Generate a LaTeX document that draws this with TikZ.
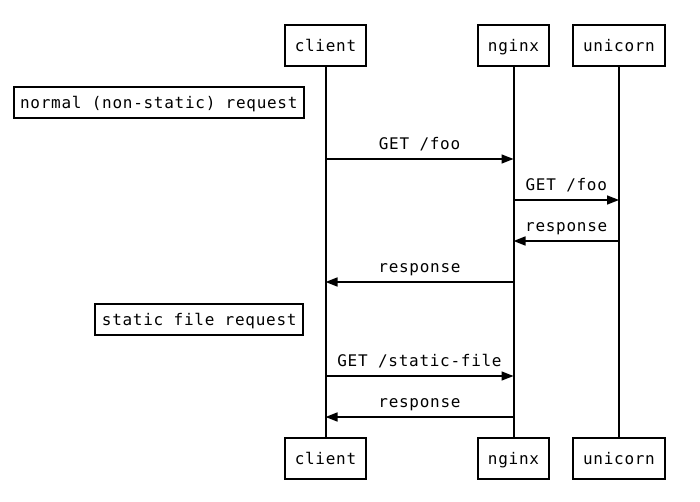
\documentclass[tikz,border=0pt]{standalone}
\usepackage{fontspec}
\newfontfamily\diagmono[LetterSpace=4.5]{DejaVu Sans Mono}
\usetikzlibrary{arrows.meta}
\begin{document}
\begin{tikzpicture}[x=1pt,y=-1pt,
  txt/.style={font=\diagmono\fontsize{16}{18}\selectfont,text height=12.5pt,text depth=0pt},
  actor/.style={txt,draw,line width=2pt,minimum height=41pt,inner xsep=10pt},
  notebox/.style={txt,draw,line width=2pt,minimum height=31pt,inner xsep=6.5pt},
  life/.style={line width=2pt},
  msg/.style={line width=1.6pt,-{Triangle[length=12pt,width=9pt]}},
  lbl/.style={txt,above=5pt,midway}]
\useasboundingbox (0,0) rectangle (700,502);
\node[actor] (ct) at (325.5,45.5) {client};
\node[actor] (nt) at (513.5,45.5) {nginx};
\node[actor] (ut) at (619,45.5) {unicorn};
\node[actor] (cb) at (325.5,458.5) {client};
\node[actor] (nb) at (513.5,458.5) {nginx};
\node[actor] (ub) at (619,458.5) {unicorn};
\draw[life] (ct.south) -- (cb.north);
\draw[life] (nt.south) -- (nb.north);
\draw[life] (ut.south) -- (ub.north);
\node[notebox,anchor=east] (n1) at (305,102.5) {normal (non-static) request};
\node[notebox,anchor=east] (n2) at (304,319) {static file request};
\coordinate (c1) at (325.5,159); \coordinate (n1a) at (513.5,159);
\coordinate (n2a) at (513.5,200); \coordinate (u2) at (619,200);
\coordinate (u3) at (619,241); \coordinate (n3) at (513.5,241);
\coordinate (n4) at (513.5,282); \coordinate (c4) at (325.5,282);
\coordinate (c5) at (325.5,376); \coordinate (n5) at (513.5,376);
\coordinate (n6) at (513.5,417); \coordinate (c6) at (325.5,417);
\draw[msg] (c1) -- node[lbl] {GET /foo} (n1a);
\draw[msg] (n2a) -- node[lbl] {GET /foo} (u2);
\draw[msg] (u3) -- node[lbl] {response} (n3);
\draw[msg] (n4) -- node[lbl] {response} (c4);
\draw[msg] (c5) -- node[lbl] {GET /static-file} (n5);
\draw[msg] (n6) -- node[lbl] {response} (c6);
\end{tikzpicture}
\end{document}
